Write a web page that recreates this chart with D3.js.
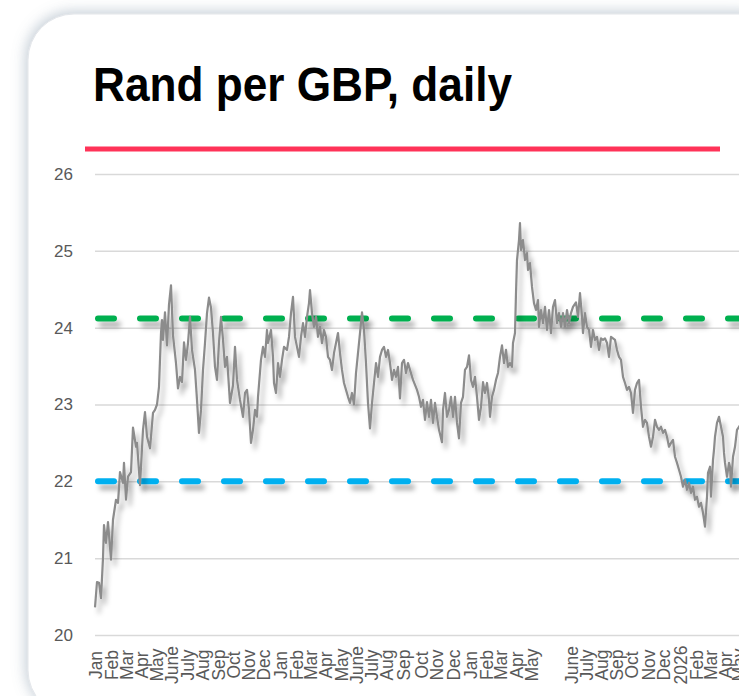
<!DOCTYPE html>
<html>
<head>
<meta charset="utf-8">
<script src="https://cdn.jsdelivr.net/npm/d3@7"></script>
<style>
  html, body { margin: 0; padding: 0; background: #ffffff; }
  svg { display: block; }
</style>
</head>
<body>
<div id="chart"></div>
<script>

// Rand per GBP: [day index, rate]
const series = [
  [0,20.36],[4,20.69],[8,20.68],[12,20.48],[16,21.0],[18,21.43],[22,21.2],[26,21.47],[32,20.98],[36,21.5],
  [42,21.76],[46,21.72],[50,22.12],[56,21.98],[58,22.24],[62,21.76],[66,22.06],[72,22.12],[76,22.7],[82,22.45],
  [84,22.5],[90,21.95],[96,22.67],[100,22.9],[104,22.58],[110,22.43],[116,22.89],[120,22.93],[124,23.0],[128,23.23],
  [132,23.93],[134,24.1],[136,23.84],[140,24.2],[144,23.77],[148,24.3],[152,24.55],[156,23.9],[162,23.54],[166,23.21],
  [170,23.36],[174,23.29],[178,23.81],[182,23.58],[186,23.8],[190,24.14],[194,23.71],[200,23.45],[204,23.06],[208,22.63],
  [212,22.93],[216,23.45],[220,23.8],[224,24.19],[228,24.39],[232,24.26],[236,23.93],[240,23.49],[244,23.32],[248,23.81],
  [252,24.14],[256,23.84],[260,23.49],[264,23.62],[270,23.02],[276,23.25],[280,23.75],[284,23.32],[290,23.06],[296,22.84],
  [300,23.15],[304,23.19],[308,22.93],[312,22.5],[316,22.67],
  [320,22.93],[324,22.84],[326,23.1],[332,23.58],[336,23.75],[340,23.62],[344,23.97],[346,23.8],[352,23.97],[356,23.62],
  [358,23.28],[362,23.15],[366,23.54],[370,23.36],[374,23.58],[378,23.75],[384,23.71],[388,23.88],[392,24.19],[396,24.4],
  [400,23.88],[404,23.75],[408,23.62],[412,23.88],[416,24.06],[420,23.88],[424,24.14],[428,24.32],[430,24.49],[434,24.19],
  [438,24.01],[442,24.14],[446,23.88],[450,24.01],[454,23.8],[458,23.97],[462,23.88],[466,23.62],[470,23.58],[474,23.45],
  [478,23.67],[482,23.8],[486,23.93],[490,23.67],[494,23.45],[498,23.28],[502,23.19],[506,23.1],[510,23.02],[514,23.15],
  [518,23.0],[522,23.41],[526,23.67],[530,23.93],[534,24.2],[538,23.97],[542,23.54],[546,23.02],[550,22.69],[554,23.02],
  [558,23.28],[562,23.54],[566,23.36],[570,23.62],[574,23.71],[578,23.75],[582,23.62],[586,23.71],[590,23.54],[594,23.32],
  [598,23.45],[602,23.36],[606,23.49],[610,23.08],[614,23.54],[618,23.58],[622,23.41],[626,23.54],[630,23.45],[636,23.32],
  [644,23.19],[648,23.1],[652,22.97],[656,23.06],[660,22.8],[664,23.03],[668,22.84],[672,23.06],[676,22.76],[680,23.02],
  [684,22.84],[688,22.67],[694,22.51],[696,22.93],[700,23.15],[704,22.84],[708,22.93],[712,23.1],[716,22.84],[720,23.1],
  [724,22.76],[728,22.56],[732,23.02],[736,23.1],[740,23.45],[744,23.49],[748,23.64],[752,23.32],[756,23.23],[760,23.36],
  [764,23.1],[768,22.8],[772,22.97],[776,23.29],[780,23.15],[784,23.28],[788,23.06],[790,22.84],[794,23.1],[798,23.19],
  [802,23.32],[806,23.41],[810,23.62],[814,23.77],[818,23.54],[822,23.71],[826,23.49],[830,23.54],[834,23.49],[836,23.8],
  [840,23.93],[842,24.45],[844,24.88],[848,25.14],[850,25.36],[852,25.01],[856,25.14],[860,24.88],[864,24.97],[866,24.75],
  [870,24.84],[874,24.53],[878,24.32],[882,24.23],[886,24.36],[888,24.01],[892,24.23],[896,24.06],[900,24.27],[904,23.97],
  [908,24.23],[912,23.93],[916,24.27],[920,24.36],[924,24.06],[928,24.19],[932,24.01],[936,24.19],[940,24.01],[944,24.23],
  [948,24.06],[952,24.19],[956,24.27],
  [962,24.33],[966,24.14],[970,24.45],[974,24.14],[976,23.93],[980,24.19],[984,24.01],[988,23.97],[992,23.75],[996,23.97],
  [1000,23.84],[1004,23.88],[1008,23.71],[1012,23.86],[1016,23.84],[1020,23.86],[1024,23.8],[1028,23.62],[1032,23.88],[1036,23.86],
  [1040,23.84],[1044,23.71],[1048,23.62],[1052,23.58],[1056,23.36],[1060,23.28],[1064,23.19],[1068,23.23],[1072,23.15],[1076,22.89],
  [1080,23.19],[1084,23.28],[1088,23.32],[1092,22.97],[1096,22.71],[1100,22.8],[1104,22.76],[1108,22.58],[1112,22.45],[1116,22.58],
  [1120,22.8],[1124,22.71],[1128,22.67],[1132,22.71],[1136,22.63],[1140,22.67],[1144,22.58],[1148,22.45],[1152,22.5],[1156,22.54],
  [1160,22.32],[1164,22.24],[1168,22.15],[1172,22.06],[1176,21.93],[1180,22.02],[1184,21.89],[1188,21.98],[1192,21.85],[1196,21.93],
  [1200,21.76],[1204,21.8],[1208,21.67],[1212,21.72],[1216,21.59],[1220,21.41],[1224,21.8],[1226,22.11],[1230,22.19],[1232,21.8],
  [1236,22.28],[1238,22.41],[1240,22.58],[1244,22.76],[1248,22.84],[1252,22.71],[1256,22.58],[1258,22.37],[1260,22.24],[1264,22.06],
  [1268,22.24],[1270,22.19],[1272,21.93],[1276,22.32],[1280,22.45],[1284,22.67],[1288,22.71],[1292,22.75]
];

// month labels on the category axis and the day index each one sits at
const monthLabels = [
  "Jan","Feb","Mar","Apr","May","June","July","Aug","Sep","Oct","Nov","Dec",
  "Jan","Feb","Mar","Apr","May","June","July","Aug","Sep","Oct","Nov","Dec",
  "Jan","Feb","Mar","Apr","May","June","July","Aug","Sep","Oct","Nov","Dec",
  "2026","Feb","Mar","Apr","May"
];
const monthTickDays = [
  0,33,63,93,123,153,185,215,247,277,307,337,
  370,403,430,460,493,523,553,583,616,653,683,717,
  750,783,810,843,873,953,983,1013,1043,1073,1107,1137,
  1170,1203,1230,1260,1287
];

const yTicks = [20, 21, 22, 23, 24, 25, 26];

// reference levels (dashed)
const upperLevel = 24.12;
const lowerLevel = 22.0;

const width = 739;
const height = 696;
const labelColor = "#595959";

const svg = d3.select("#chart")
  .append("svg")
    .attr("width", width)
    .attr("height", height);

const defs = svg.append("defs");

defs.append("filter")
    .attr("id", "cardShadow")
    .attr("filterUnits", "userSpaceOnUse")
    .attr("x", -40).attr("y", -40)
    .attr("width", width + 80).attr("height", height + 80)
  .append("feDropShadow")
    .attr("dx", -2)
    .attr("dy", -2)
    .attr("stdDeviation", 7)
    .attr("flood-color", "#7d8fa3")
    .attr("flood-opacity", 0.45);

defs.append("filter")
    .attr("id", "lineShadow")
    .attr("filterUnits", "userSpaceOnUse")
    .attr("x", 0).attr("y", 0)
    .attr("width", width).attr("height", height)
  .append("feDropShadow")
    .attr("dx", 4)
    .attr("dy", 6)
    .attr("stdDeviation", 2.5)
    .attr("flood-color", "#000")
    .attr("flood-opacity", 0.3);

svg.append("rect")
    .attr("width", width)
    .attr("height", height)
    .attr("fill", "#ffffff");

// card
svg.append("rect")
    .attr("x", 28)
    .attr("y", 14)
    .attr("width", 760)
    .attr("height", 702)
    .attr("rx", 46)
    .attr("ry", 46)
    .attr("fill", "#ffffff")
    .attr("stroke", "#e3e6ea")
    .attr("stroke-width", 1)
    .attr("filter", "url(#cardShadow)");

// title
svg.append("text")
    .attr("x", 93)
    .attr("y", 101)
    .attr("textLength", 419)
    .attr("lengthAdjust", "spacingAndGlyphs")
    .style("font-family", "'Liberation Sans Narrow', 'Liberation Sans', Arial, sans-serif")
    .style("font-size", "49px")
    .style("font-weight", 700)
    .style("fill", "#000")
    .text("Rand per GBP, daily");

svg.append("line")
    .attr("x1", 85)
    .attr("x2", 720)
    .attr("y1", 149)
    .attr("y2", 149)
    .attr("stroke", "#ff3358")
    .attr("stroke-width", 5);

const xScale = d3.scaleLinear()
  .domain([0, 1288])
  .range([95, 739]);

const yScale = d3.scaleLinear()
  .domain([20, 26])
  .range([635, 174]);

// y axis with gridlines
const yAxis = svg.append("g")
    .attr("transform", `translate(${xScale(0)}, 0)`)
    .call(d3.axisLeft(yScale)
      .tickValues(yTicks)
      .tickFormat(d3.format("d"))
      .tickSize(-(width - xScale(0) + 10))
      .tickPadding(22));

yAxis.select(".domain").remove();
yAxis.selectAll(".tick line")
    .attr("stroke", "#d9d9d9")
    .attr("stroke-width", 1.5);
yAxis.selectAll(".tick text")
    .style("font-family", "'Liberation Sans', Arial, sans-serif")
    .style("font-size", "17px")
    .style("fill", labelColor);

// x axis month labels
const xAxis = svg.append("g")
    .attr("transform", `translate(0, ${yScale(20)})`)
    .call(d3.axisBottom(xScale)
      .tickValues(monthTickDays)
      .tickFormat((d, i) => monthLabels[i])
      .tickSize(0));

xAxis.select(".domain").remove();
xAxis.selectAll(".tick text")
    .attr("x", 0)
    .attr("y", 0)
    .attr("dy", "0.35em")
    .attr("transform", "translate(0, 30) rotate(-90)")
    .attr("text-anchor", "middle")
    .style("font-family", "'Liberation Sans', Arial, sans-serif")
    .style("font-size", "17.5px")
    .style("fill", labelColor);

// dashed reference levels
const levels = [
  { value: upperLevel, color: "#00b050" },
  { value: lowerLevel, color: "#00b0f0" }
];

svg.append("g")
  .selectAll("line")
  .data(levels)
  .join("line")
    .attr("x1", xScale(0) + 3)
    .attr("x2", width + 20)
    .attr("y1", d => yScale(d.value))
    .attr("y2", d => yScale(d.value))
    .attr("stroke", d => d.color)
    .attr("stroke-width", 6)
    .attr("stroke-linecap", "round")
    .attr("stroke-dasharray", "16 26")
    .attr("filter", "url(#lineShadow)");

// rate line
const line = d3.line()
  .x(d => xScale(d[0]))
  .y(d => yScale(d[1]));

svg.append("path")
    .datum(series)
    .attr("d", line)
    .attr("fill", "none")
    .attr("stroke", "#8c8c8c")
    .attr("stroke-width", 2.2)
    .attr("stroke-linejoin", "round")
    .attr("filter", "url(#lineShadow)");

</script>
</body>
</html>
